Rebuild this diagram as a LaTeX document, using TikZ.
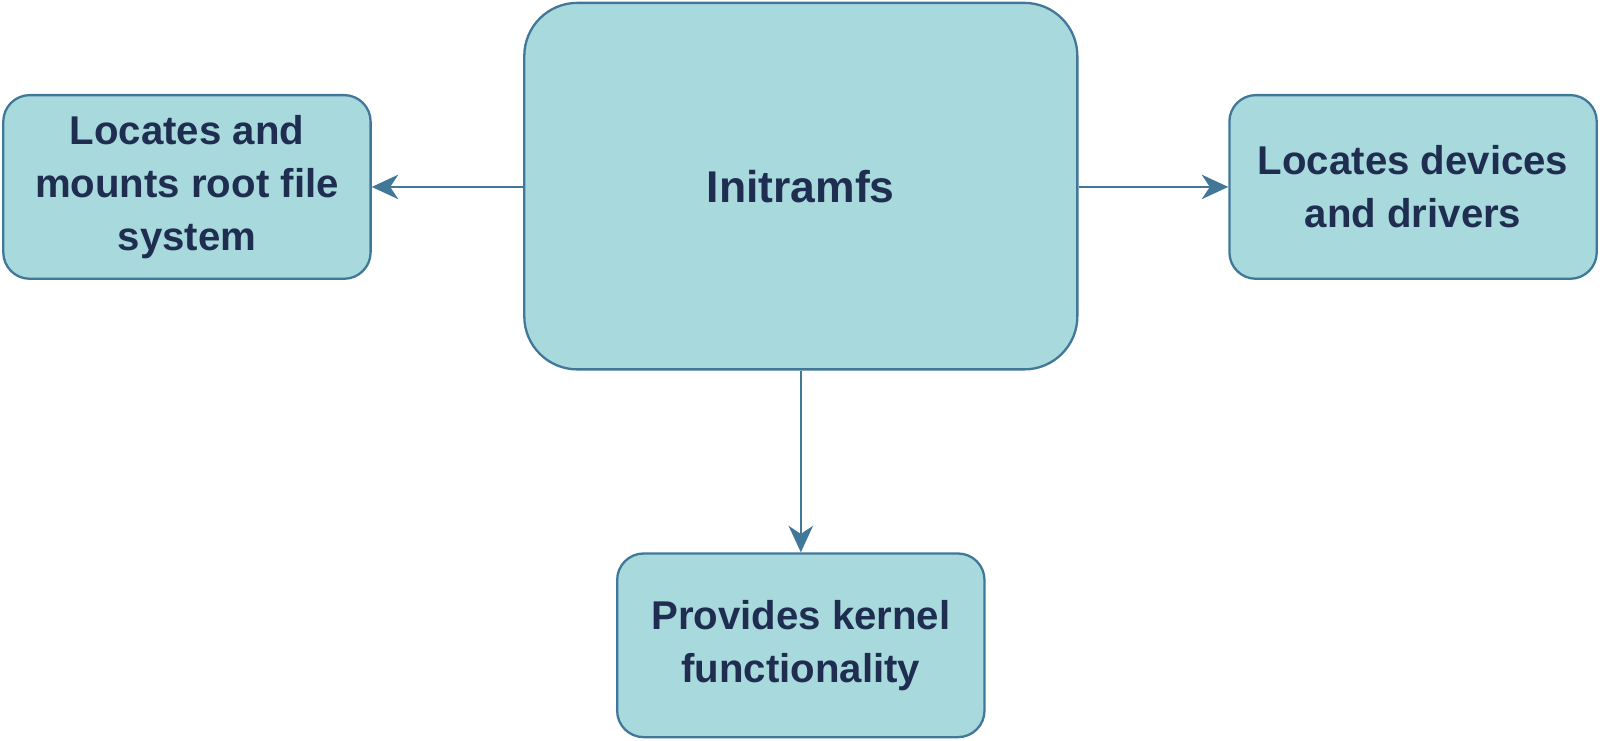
\documentclass[tikz,border=0pt]{standalone}
\usepackage{fontspec}
\setmainfont{Liberation Sans}
\usetikzlibrary{arrows.meta}
\definecolor{boxfill}{HTML}{A8D9DC}
\definecolor{boxline}{HTML}{41789A}
\definecolor{boxtext}{HTML}{1E2D50}
\tikzset{
  box/.style={draw=boxline,line width=1.6pt,fill=boxfill,rounded corners=0.65cm,
    align=center,text=boxtext,font=\fontsize{28}{37}\selectfont\bfseries,
    minimum width=9cm,minimum height=4.5cm,inner sep=0pt},
  link/.style={draw=boxline,line width=1.4pt,-{Stealth[length=0.65cm,width=0.6cm,inset=0.2cm]}}
}
\begin{document}
\begin{tikzpicture}
  \useasboundingbox (0,0) rectangle (39.2,-18.15);
  \node[box,minimum width=13.55cm,minimum height=8.98cm,rounded corners=1.3cm,
    font=\fontsize{31}{37}\selectfont\bfseries] (init) at (19.62,-4.56) {Initramfs};
  \node[box] (mount) at (4.58,-4.58) {Locates and\\mounts root file\\system};
  \node[box] (dev) at (34.62,-4.58) {Locates devices\\and drivers};
  \node[box] (kern) at (19.62,-15.81) {Provides kernel\\functionality};
  % connectors
  \draw[link] (init.west |- mount.east) -- (mount.east);
  \draw[link] (init.east |- dev.west) -- (dev.west);
  \draw[link] (init.south) -- (kern.north);
\end{tikzpicture}
\end{document}
